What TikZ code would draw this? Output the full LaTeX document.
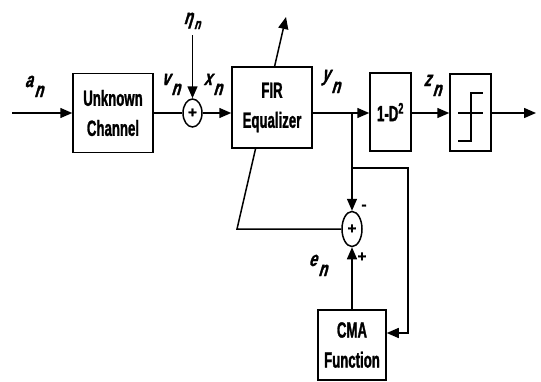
\documentclass[tikz,border=0pt]{standalone}
\usepackage{fontspec}
\setmainfont{Liberation Sans}
\newfontfamily\boxfont[FakeStretch=0.6,FakeBold=1.2]{Liberation Sans Bold}
\newfontfamily\plusfont[FakeBold=1.5]{Liberation Sans Bold}
\newfontfamily\lblfont[FakeStretch=0.68,FakeSlant=0.3,FakeBold=1.5]{Liberation Sans Bold}
\usetikzlibrary{arrows.meta,shapes.geometric,backgrounds}
\newcommand{\sig}[3][10pt]{#2\kern1.5pt\raisebox{-#1}{#3}}
\begin{document}
\begin{tikzpicture}[x=1pt,y=-1pt,line width=1.5pt,
  blk/.style={draw,fill=white,inner sep=0pt,align=center,font=\boxfont\fontsize{22}{30}\selectfont},
  sumnode/.style={draw,ellipse,inner sep=0pt,fill=white,font=\plusfont\fontsize{15}{15}\selectfont},
  arr/.style={-{Triangle[length=12pt,width=10pt]}},
  lbl/.style={inner sep=0pt,anchor=base west,font=\lblfont\fontsize{21}{21}\selectfont},
  sign/.style={inner sep=0pt,font=\plusfont\fontsize{15}{15}\selectfont}]
\useasboundingbox (0,0) rectangle (541,381);
% blocks
\node[blk,minimum width=80pt,minimum height=79pt] (ch) at (113,113) {Unknown\\Channel};
\node[sumnode,minimum width=19pt,minimum height=28pt] (s1) at (192.5,113) {+};
\node[blk,minimum width=80pt,minimum height=81pt] (fir) at (272,107.5) {FIR\\Equalizer};
\node[blk,minimum width=41pt,minimum height=78pt] (dd) at (390.5,112) {1-D\textsuperscript{2}};
\node[blk,minimum width=41pt,minimum height=77pt] (sl) at (470.5,112.5) {};
\node[sumnode,minimum width=20pt,minimum height=35pt] (s2) at (352,229) {+};
\node[blk,minimum width=68pt,minimum height=70pt] (cma) at (352,345) {CMA\\Function};
% coordinates
\coordinate (in) at (12,113);
\coordinate (out) at (536,113);
\coordinate (eta) at (192.5,35);
\coordinate (br) at (352,113);
\coordinate (br2) at (352,168);
\coordinate (r1) at (408,168);
\coordinate (r2) at (408,333);
\coordinate (ad) at (237,229);
\coordinate (tip) at (286,17);
% connectors
\draw[arr] (in) -- (ch.west |- in);
\draw (ch.east |- s1) -- (s1.west);
\draw[arr] (eta) -- (s1.north);
\draw[arr] (s1.east) -- (s1 -| fir.west);
\draw[arr] (fir.east |- br) -- (br -| dd.west);
\draw[arr] (br) -- (s2.north);
\draw[arr] (br2) -- (r1) -- (r2) -- (r2 -| cma.east);
\draw[arr] (dd.east |- br) -- (br -| sl.west);
\draw[arr] (sl.east |- br) -- (out);
\draw[arr] (cma.north) -- (s2.south);
\begin{scope}[on background layer]
\draw[arr,line width=1.5pt,black] (s2.west) -- (ad) -- (tip);
\end{scope}
% slicer symbol
\begin{scope}[shift={(sl.center)}]
\draw (-12.5,0.5) -- (12.5,0.5);
\draw (-12.5,28.5) -- (0.5,28.5) -- (0.5,-19.5) -- (12.5,-19.5);
\end{scope}
% labels
\node[lbl] (la) at (24,87) {\sig{a}{n}};
\node[lbl] (lv) at (161,85) {\sig{v}{n}};
\node[lbl] (lx) at (203,85) {\sig{x}{n}};
\node[lbl] (leta) at (183,24) {\sig[5pt]{η}{\fontsize{15}{15}\selectfont n}};
\node[lbl] (ly) at (321,81) {\sig[12pt]{y}{n}};
\node[lbl] (lz) at (423,86) {\sig{z}{n}};
\node[lbl] (le) at (308,266) {\sig{e}{n}};
\node[sign] (minus) at (364,207) {-};
\node[sign] (plus) at (362,257) {+};
\end{tikzpicture}
\end{document}
